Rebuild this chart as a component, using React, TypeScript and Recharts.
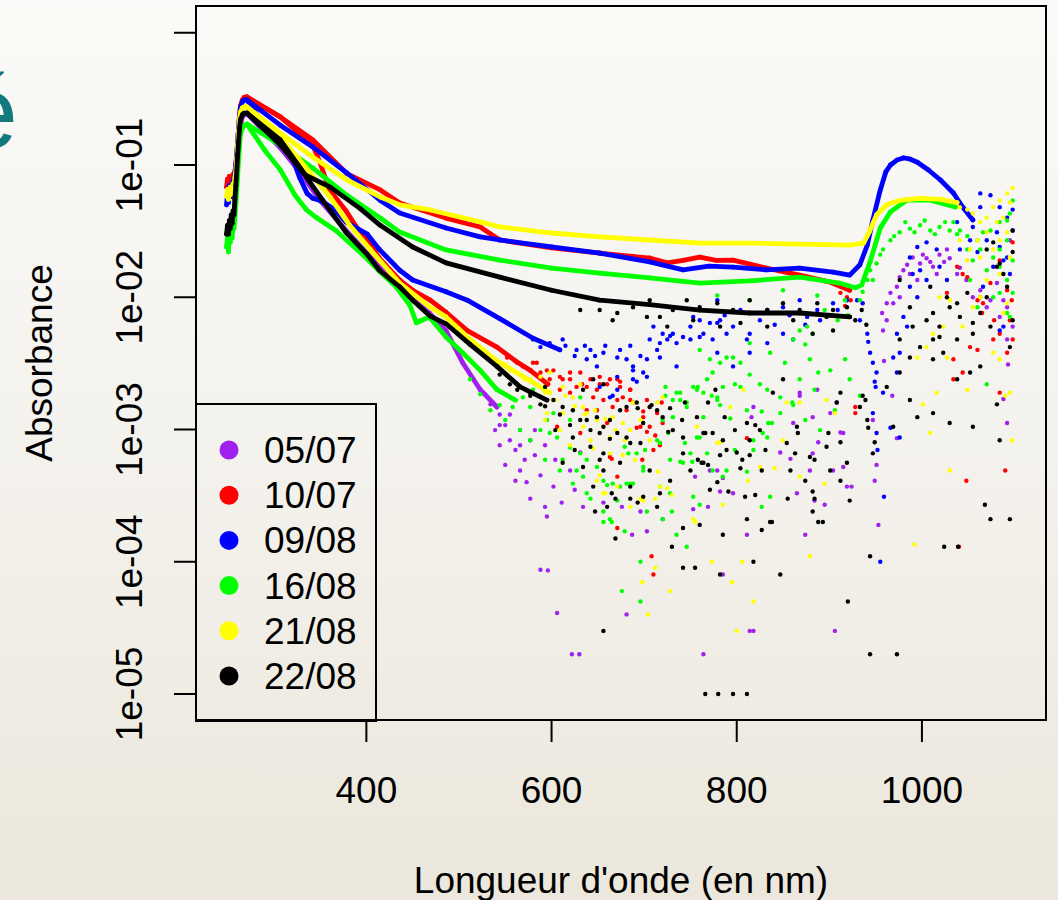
import React from 'react';
import { ScatterChart, Scatter, XAxis, YAxis, Legend, ReferenceArea } from 'recharts';

type P = [number, number];

const FONT = '"Liberation Sans", Arial, Helvetica, sans-serif';

const X_DOMAIN: [number, number] = [216, 1134];
const Y_DOMAIN: [number, number] = [6.36e-6, 1.593];
const X_TICKS = [400, 600, 800, 1000];
const Y_TICKS = [1, 0.1, 0.01, 0.001, 0.0001, 0.00001];
const Y_TICK_LABELS = ['', '1e-01', '1e-02', '1e-03', '1e-04', '1e-05'];
const X_TITLE = "Longueur d'onde (en nm)";
const Y_TITLE = 'Absorbance';

// ---- smooth spectra (wavelength nm, absorbance) ----
const PURPLE_LO: P[] = [[250,0.03],[253,0.034],[256,0.04],[258,0.05],[260,0.08],[262,0.14],[264,0.2],[266,0.23],[268,0.24],[271,0.245],[307,0.135],[328,0.089],[350,0.054],[378,0.032],[415,0.0167],[436,0.0117],[468,0.0076],[486,0.0056],[504,0.0032],[523,0.002],[541,0.00148]];

const RED_HI: P[] = [[249,0.068],[250,0.078],[251,0.072],[252,0.082],[253,0.075],[254,0.07],[255,0.08],[256,0.085],[257,0.078],[258,0.09],[259,0.1],[260,0.12],[261,0.15],[262,0.19],[263,0.24],[264,0.28],[266,0.31],[268,0.325],[271,0.327],[307,0.231],[342,0.155],[379,0.086],[415,0.0648],[436,0.0516],[486,0.0397],[523,0.034],[544,0.0271],[600,0.0236],[652,0.0216],[706,0.0198],[725,0.0182],[742,0.019],[760,0.0201],[778,0.019],[796,0.0191],[832,0.0166],[868,0.0147],[901,0.013],[922,0.0113]];
const RED_LO: P[] = [[271,0.327],[307,0.231],[342,0.142],[350,0.104],[360,0.065],[378,0.045],[390,0.0334],[401,0.027],[414,0.0198],[436,0.0135],[450,0.0113],[469,0.0095],[486,0.0077],[509,0.0056],[541,0.0042],[561,0.0033],[577,0.0028],[596,0.0022]];

const BLUE_HI: P[] = [[249,0.05],[250,0.06],[251,0.052],[252,0.07],[253,0.064],[254,0.058],[255,0.07],[256,0.075],[257,0.08],[258,0.085],[259,0.1],[260,0.12],[261,0.15],[262,0.19],[263,0.23],[264,0.27],[266,0.3],[268,0.31],[271,0.31],[307,0.2],[342,0.137],[379,0.087],[415,0.054],[436,0.0434],[486,0.0334],[523,0.0286],[544,0.0271],[600,0.024],[652,0.0216],[706,0.0185],[742,0.0161],[770,0.0172],[796,0.0169],[832,0.0161],[868,0.0166],[904,0.0155],[922,0.0147],[933,0.0176],[941,0.0248],[947,0.0384],[955,0.0648],[961,0.0886],[966,0.1],[973,0.109],[980,0.113],[987,0.111],[995,0.105],[1007,0.0917],[1020,0.077],[1034,0.0614],[1044,0.0481],[1055,0.0384]];
const BLUE_MID: P[] = [[271,0.31],[290,0.2],[318,0.125],[328,0.08],[336,0.061],[342,0.056],[350,0.054],[366,0.046],[378,0.037],[401,0.03],[414,0.023],[436,0.016],[450,0.0135],[486,0.011],[509,0.0095],[544,0.0069],[580,0.0049],[609,0.004]];

const GREEN_HI: P[] = [[249,0.024],[250,0.028],[251,0.022],[252,0.03],[253,0.026],[254,0.032],[255,0.028],[256,0.035],[257,0.033],[258,0.04],[259,0.05],[260,0.065],[261,0.085],[262,0.11],[263,0.14],[264,0.17],[266,0.19],[268,0.2],[271,0.204],[307,0.142],[342,0.095],[379,0.059],[415,0.0397],[436,0.0311],[486,0.0228],[544,0.0191],[600,0.0166],[652,0.0152],[706,0.014],[760,0.0128],[814,0.0133],[868,0.0142],[911,0.0128],[928,0.0118],[935,0.0124],[944,0.0185],[955,0.0334],[966,0.0442],[984,0.0543],[1009,0.0543],[1036,0.0481]];
const GREEN_LO: P[] = [[271,0.204],[290,0.13],[307,0.092],[323,0.059],[335,0.046],[346,0.04],[367,0.032],[396,0.021],[415,0.0155],[432,0.012],[447,0.0087],[454,0.0064],[460,0.0067],[468,0.0071],[486,0.005],[504,0.0038],[523,0.0028],[541,0.002],[561,0.00167]];

const YELLOW_HI: P[] = [[249,0.058],[250,0.065],[251,0.055],[252,0.062],[253,0.068],[254,0.06],[255,0.066],[256,0.072],[257,0.07],[258,0.08],[259,0.09],[260,0.11],[261,0.14],[262,0.18],[263,0.22],[264,0.25],[266,0.27],[268,0.275],[271,0.275],[307,0.175],[342,0.115],[379,0.077],[415,0.0573],[436,0.05],[469,0.0457],[523,0.0371],[544,0.034],[600,0.0306],[652,0.0286],[706,0.0271],[760,0.0257],[814,0.0257],[868,0.0252],[922,0.0248],[937,0.0257],[943,0.031],[951,0.042],[962,0.05],[976,0.054],[998,0.056],[1020,0.055],[1038,0.052]];
const YELLOW_LO: P[] = [[271,0.275],[307,0.163],[328,0.109],[361,0.057],[382,0.035],[404,0.023],[436,0.0128],[469,0.0084],[486,0.0071],[512,0.0048],[541,0.0033],[566,0.0026],[598,0.0019]];

const BLACK_HI: P[] = [[249,0.03],[250,0.035],[251,0.03],[252,0.038],[253,0.033],[254,0.042],[255,0.036],[256,0.045],[257,0.042],[258,0.055],[259,0.07],[260,0.09],[261,0.12],[262,0.15],[263,0.19],[264,0.22],[266,0.24],[268,0.247],[271,0.247],[307,0.155],[334,0.084],[361,0.068],[393,0.047],[415,0.035],[450,0.024],[486,0.0182],[544,0.0142],[600,0.0113],[652,0.0095],[706,0.0088],[760,0.008],[814,0.0076],[868,0.0076],[922,0.0071]];
const BLACK_LO: P[] = [[271,0.247],[307,0.142],[328,0.095],[353,0.054],[378,0.031],[401,0.021],[414,0.016],[436,0.012],[450,0.0095],[469,0.0072],[486,0.0063],[512,0.0044],[541,0.003],[566,0.0021],[595,0.00167]];

// ---- noisy points (wavelength nm, absorbance) ----
const PURPLE_SC: P[] = [[544,1.3e-3],[550,1.08e-3],[555,8.3e-4],[539,9.9e-4],[561,7.0e-4],[566,7.6e-4],[571,5.9e-4],[566,4.9e-4],[573,4.0e-4],[577,3.0e-4],[582,6.4e-4],[588,4.5e-4],[593,2.6e-4],[595,2.2e-4],[602,3.7e-4],[611,2.8e-4],[620,4.9e-4],[625,3.5e-4],[631,6.7e-4],[634,2.6e-4],[656,2.8e-4],[676,2.6e-4],[687,1.6e-4],[703,1.7e-4],[696,2.4e-4],[720,2.1e-4],[753,2.5e-4],[769,2.6e-4],[755,4.4e-4],[771,4.9e-4],[779,4.9e-4],[782,3.4e-4],[785,4.3e-4],[796,3.3e-4],[811,1.6e-4],[818,1.48e-3],[816,1.24e-3],[847,6.7e-4],[858,6.0e-4],[861,1.12e-3],[868,1.9e-3],[882,6.6e-4],[888,8.0e-4],[879,4.9e-4],[865,3.3e-4],[884,2.9e-4],[895,2.7e-4],[904,4.9e-4],[912,9.5e-4],[919,3.7e-4],[915,5.2e-4],[924,3.7e-4],[947,1.18e-3],[949,4.1e-4],[951,5.4e-4],[953,1.9e-4],[874,1.6e-4],[868,1.8e-3],[887,2.0e-3],[901,1.33e-3],[915,9.4e-4],[882,1.24e-3],[908,1.6e-3],
[528,1.85e-3],[534,1.55e-3],[544,1.08e-3],[555,1.3e-3],[566,9.9e-4],[577,8.3e-4],[582,9.9e-4],[593,7.6e-4],[604,5.9e-4],[544,7.6e-4],[550,5.4e-4],[561,4.1e-4],
[588,8.7e-5],[596,8.6e-5],[606,4.1e-5],[622,2.0e-5],[630,2.0e-5],[681,4.0e-5],[764,2.0e-5],[785,8.0e-5],[814,3.0e-5],[818,3.0e-5],[906,3.0e-5],
[957,7.6e-3],[962,9.0e-3],[966,0.0108],[973,0.012],[976,0.0142],[984,0.0176],[990,0.02],[998,0.018],[1005,0.0197],[1012,0.017],[1019,0.021],[1027,0.023],[1016,0.015],[995,0.0135],[987,0.015],[969,9.0e-3],[976,0.01],[962,6.7e-3],[958,5.6e-3],[1038,0.015],[1055,0.01],[1070,8.4e-3],[1084,7.1e-3],[1092,4.8e-3],[1098,6.0e-3],[1081,0.0128],[1088,9.5e-3],[1092,1.12e-3],[1095,0.027],[1092,8.4e-3],[959,3.3e-3],[968,1.8e-3],[973,8.6e-4],[1088,1.7e-3],[1093,3.1e-3],[980,0.016],[1001,0.021],[1009,0.0185],[1024,0.0185],[1030,0.0197],[1041,0.0167],[1048,0.0135],[1063,0.0113],[1074,0.0095]];

const RED_SC: P[] = [[584,3.2e-3],[595,2.8e-3],[609,2.5e-3],[620,2.4e-3],[631,2.7e-3],[642,2.4e-3],[649,2.0e-3],[660,2.2e-3],[671,2.4e-3],[677,1.75e-3],[685,1.67e-3],[699,1.24e-3],[706,1.48e-3],[696,1.05e-3],[681,1.4e-3],[666,1.48e-3],[649,1.4e-3],[638,1.4e-3],[620,1.9e-3],[606,1.05e-3],[660,1.12e-3],[706,1.05e-3],[717,7.9e-4],[710,7.0e-4],[663,6.2e-4],[671,4.4e-4],[631,9.4e-4],[609,2.0e-3],[598,2.4e-3],[633,2.2e-3],[652,2.2e-3],[674,2.3e-3],[685,2.0e-3],[688,1.6e-3],[699,1.37e-3],[692,1.03e-3],[703,9.6e-4],[712,9.0e-4],[665,6.0e-4],[698,5.9e-4],[717,7.6e-4],[719,1.6e-3],[671,1.8e-4],[708,1.1e-4],[710,8.0e-5],[928,1.48e-3],[928,1.33e-3],[811,8.6e-4],[912,0.0108],[919,0.01],[917,8.6e-3],[923,9.5e-3],
[552,3.5e-3],[563,3.2e-3],[569,3.0e-3],[580,3.2e-3],[588,2.7e-3],[602,2.8e-3],[612,2.4e-3],[620,2.7e-3],[638,2.1e-3],[652,2.5e-3],[663,2.4e-3],[674,2.1e-3],[685,2.0e-3],[703,1.67e-3],[714,1.33e-3],[720,1.12e-3],[671,1.67e-3],[656,1.67e-3],[645,1.75e-3],[627,2.1e-3],
[1038,0.017],[1044,0.015],[1049,0.0142],[1063,0.01],[1060,9.5e-3],[1066,9.0e-3],[1065,7.6e-3],[1084,0.019],[1098,0.026],[1084,5.3e-3],[1098,4.8e-3],[1092,3.8e-3],[1077,4.8e-3],[1052,4.2e-3],[1060,4.0e-3],[1034,3.4e-3],[1034,2.4e-3],[1084,1.9e-3],[1044,2.7e-3],[1027,0.0108],[1048,4.1e-4],[1090,4.9e-4],[1040,1.3e-4],[1074,0.0128],[1092,0.0113],[1097,9.5e-3],[1078,6.7e-3],[1095,6.7e-3]];

const BLUE_SC: P[] = [[580,4.8e-3],[588,4.2e-3],[598,4.5e-3],[612,4.8e-3],[627,4.0e-3],[638,3.4e-3],[649,3.0e-3],[642,4.0e-3],[656,3.8e-3],[671,3.5e-3],[674,4.0e-3],[681,3.4e-3],[688,2.8e-3],[699,2.7e-3],[703,3.4e-3],[714,4.0e-3],[717,4.5e-3],[720,5.3e-3],[735,4.5e-3],[742,5.0e-3],[750,6.0e-3],[764,5.3e-3],[771,6.4e-3],[782,6.7e-3],[774,4.8e-3],[671,2.5e-3],[663,1.75e-3],[688,2.4e-3],[671,2.0e-3],[666,1.8e-3],[652,2.1e-3],[692,2.3e-3],[710,6.0e-3],[725,4.8e-3],[731,5.3e-3],[760,5.0e-3],[779,6.4e-3],[789,5.3e-3],[796,6.0e-3],[811,4.8e-3],[814,5.3e-3],[833,4.5e-3],[850,5.3e-3],[861,4.8e-3],[876,7.1e-3],[887,8.0e-3],[904,9.0e-3],[919,9.5e-3],[868,9.5e-3],[850,8.4e-3],[833,8.0e-3],[779,9.5e-3],[814,3.8e-3],[796,3.0e-3],[779,3.8e-3],[753,7.1e-3],[717,3.5e-3],[735,3.0e-3],[703,2.5e-3],[688,3.0e-3],
[615,4.3e-3],[625,3.6e-3],[636,4.3e-3],[647,3.6e-3],[658,4.3e-3],[685,4.3e-3],[696,3.6e-3],[706,4.8e-3],[728,5.1e-3],[750,4.8e-3],[760,6.7e-3],[787,7.3e-3],[804,8.0e-3],[825,6.7e-3],[841,6.2e-3],[857,7.3e-3],[874,6.2e-3],[890,6.7e-3],[909,8.0e-3],
[930,9.5e-3],[936,9.0e-3],[933,6.7e-3],[941,5.3e-3],[942,4.6e-3],[944,3.8e-3],[947,3.2e-3],[951,2.7e-3],[950,2.1e-3],[958,1.9e-3],[947,1.33e-3],[951,9.4e-4],[966,1.03e-3],[976,8.7e-4],[952,7.0e-4],[959,3.1e-4],[955,1.0e-4],[949,2.3e-3],
[973,5.3e-3],[969,3.5e-3],[973,2.7e-3],[976,3.8e-3],[980,7.1e-3],[984,6.0e-3],[987,0.012],[995,0.01],[990,0.015],[998,0.016],[1005,0.0135],[987,0.02],[995,0.024],[1005,0.026],[1016,0.023],[1019,0.017],[1027,0.0135],
[1038,0.037],[1055,0.034],[1063,0.048],[1063,0.061],[1074,0.059],[1084,0.048],[1092,0.04],[1081,0.031],[1084,0.024],[1092,0.02],[1070,0.027],[1052,0.027],[1041,0.023],[1060,0.022],[1077,0.017],[1088,0.019],[1095,0.015],[1066,0.012],[1084,5.6e-3],[1088,6.0e-3],[1098,0.032],[1098,0.046]];

const GREEN_SC: P[] = [[558,1.48e-3],[569,1.75e-3],[577,1.48e-3],[580,2.0e-3],[595,1.18e-3],[602,1.33e-3],[606,8.7e-4],[620,1.18e-3],[620,7.3e-4],[627,4.9e-4],[638,5.9e-4],[649,5.2e-4],[656,4.1e-4],[612,5.9e-4],[598,9.4e-4],[623,3.9e-4],[638,3.3e-4],[656,2.4e-4],[663,2.1e-4],[671,2.9e-4],[685,3.9e-4],[699,5.2e-4],[692,6.6e-4],[714,8.3e-4],[720,1.18e-3],[731,1.67e-3],[739,1.9e-3],[746,1.6e-3],[757,2.0e-3],[768,2.4e-3],[774,2.7e-3],[782,3.2e-3],[789,3.5e-3],[785,2.1e-3],[779,1.67e-3],[764,1.24e-3],[757,8.7e-4],[750,6.6e-4],[728,5.9e-4],[742,5.6e-4],[768,6.6e-4],[774,4.9e-4],[785,4.4e-4],[753,3.1e-4],[728,3.3e-4],[703,2.4e-4],[720,2.1e-4],
[512,2.4e-3],[523,1.85e-3],[534,1.4e-3],[544,1.53e-3],[550,1.18e-3],[566,9.9e-4],[577,8.3e-4],[588,9.9e-4],[593,5.9e-4],[609,4.9e-4],
[760,4.0e-3],[771,3.4e-3],[804,3.2e-3],[814,2.6e-3],[836,3.8e-3],[852,3.2e-3],[868,2.4e-3],[884,2.0e-3],[901,2.8e-3],[917,3.4e-3],[922,2.4e-3],[933,1.8e-3],[906,1.4e-3],[890,9.9e-4],[874,1.18e-3],
[631,1.75e-3],[631,6.6e-4],[634,4.4e-4],[642,3.0e-4],[656,2.0e-4],[665,2.0e-4],[679,1.7e-4],[696,1.0e-4],[676,6.0e-5],[696,5.0e-5],[660,3.8e-4],[666,3.9e-4],[674,3.7e-4],[681,3.9e-4],[688,3.9e-4],[683,6.6e-4],[679,7.4e-4],[699,4.9e-4],[701,7.0e-4],[717,7.9e-4],[726,9.4e-4],[731,1.24e-3],[739,1.67e-3],[735,1.9e-3],[746,1.48e-3],[753,2.1e-3],[758,2.1e-3],[764,1.9e-3],[773,1.8e-3],[779,1.75e-3],[782,1.53e-3],[723,2.1e-3],[723,1.8e-3],[739,5.7e-4],[752,5.7e-4],[760,8.7e-4],[744,7.9e-4],[717,3.7e-4],[730,2.4e-4],[735,1.6e-4],[746,1.3e-4],[766,9.4e-4],[789,4.9e-4],[798,7.0e-4],[811,4.8e-4],[818,7.0e-4],[828,9.4e-4],[833,8.7e-4],[834,1.12e-3],[838,1.12e-3],[847,1.33e-3],[861,1.53e-3],[860,1.6e-3],[847,1.75e-3],[827,1.37e-3],[818,8.3e-4],[811,1.4e-3],[793,1.21e-3],[798,2.2e-3],[804,2.1e-3],[825,2.2e-3],[833,2.0e-3],[827,2.6e-4],[836,3.1e-4],[760,2.7e-4],
[779,0.0103],[814,0.0095],[850,0.0113],[887,0.0103],[917,0.0095],[796,0.0035],[814,0.0045],[861,0.0048],[876,0.006],[868,0.0056],[874,0.0044],[879,0.0034],[888,0.0027],[882,0.0053],[895,0.008],[909,0.0067],[920,0.0073],[933,0.0095],[936,0.011],
[941,0.0135],[944,0.016],[951,0.018],[958,0.023],[966,0.027],[976,0.031],[987,0.033],[998,0.035],[1009,0.032],[1019,0.034],[1030,0.032],[1038,0.03],[970,0.029],[982,0.037],[992,0.031],[1003,0.038],[1014,0.03],[1025,0.037],[947,0.0135],[955,0.021],
[1034,0.037],[1041,0.032],[1049,0.029],[1060,0.027],[1066,0.031],[1074,0.032],[1084,0.037],[1092,0.038],[1098,0.054],[1095,0.043],[1049,0.023],[1055,0.019],[1063,0.023],[1084,0.023],[1092,0.027],[1077,0.02],[1070,0.016],[1052,0.0135],[1084,0.017],[1092,0.0135],[1098,0.0108],[1084,0.0108],[1077,0.01],[1060,0.0084],[1092,0.0076],[1095,0.0071],[1070,0.0022],[1098,0.019]];

const YELLOW_SC: P[] = [[555,2.8e-3],[577,2.4e-3],[588,2.5e-3],[598,2.7e-3],[612,2.1e-3],[623,1.75e-3],[634,1.48e-3],[649,1.18e-3],[656,1.05e-3],[666,1.24e-3],[677,1.12e-3],[685,9.9e-4],[642,8.3e-4],[663,8.7e-4],[634,1.05e-3],[612,1.33e-3],[595,1.33e-3],[649,4.1e-4],[656,3.3e-4],[685,2.6e-4],[699,2.9e-4],[717,3.7e-4],[725,3.6e-4],[688,1.6e-3],[714,1.6e-3],[720,1.75e-3],[757,1.05e-3],[779,7.9e-4],[753,2.1e-4],[663,6.6e-4],[631,2.2e-3],[638,1.33e-3],[645,7.2e-4],[652,4.5e-4],[658,3.3e-4],[671,3.7e-4],[677,6.4e-4],[690,5.9e-4],[696,3.0e-4],[712,3.0e-4],[715,4.8e-4],[730,3.2e-4],[712,9.0e-5],[698,7.0e-5],[704,4.0e-5],[728,6.0e-5],[755,2.0e-4],[773,1.0e-4],[806,1.0e-4],[795,7.0e-5],[818,5.0e-5],[800,3.0e-5],[782,8.0e-4],[793,1.48e-3],[807,2.0e-3],[825,5.2e-4],[841,5.1e-4],[850,8.3e-4],[854,1.6e-3],[868,4.4e-4],[879,1.1e-4],[868,1.6e-3],[897,1.67e-3],[906,1.33e-3],[895,3.9e-4],[812,4.1e-4],[785,2.7e-4],
[550,3.1e-3],[561,2.7e-3],[571,2.4e-3],[582,2.2e-3],[593,1.9e-3],[604,1.67e-3],[615,1.8e-3],[625,1.5e-3],[636,1.3e-3],[647,1.4e-3],[658,1.2e-3],[669,9.9e-4],[679,8.3e-4],[696,1.18e-3],[706,8.3e-4],[609,9.9e-4],[620,7.6e-4],[593,1.18e-3],
[1041,0.048],[1049,0.046],[1055,0.043],[1063,0.037],[1070,0.04],[1077,0.048],[1084,0.054],[1092,0.061],[1098,0.067],[1095,0.052],[1088,0.04],[1081,0.037],[1070,0.031],[1060,0.027],[1052,0.023],[1041,0.027],[1084,0.027],[1092,0.031],[1095,0.02],[1084,0.015],[1077,0.023],[1063,0.02],[1049,0.019],[1070,0.0135],[1092,0.009],[1088,0.0076],[1077,0.0038],[1084,0.0034],[1063,0.01],[1030,0.0095],[1019,0.01],[1012,0.0053],[1005,0.0042],[1016,1.9e-3],[1001,1.55e-3],[1009,9.4e-4],[1027,3.5e-3],[1044,6.0e-3],[1055,8.4e-3],[1095,1.9e-3],[1049,2.0e-3],[995,3.5e-3],[1023,6.0e-3],[1097,8.3e-4],[992,1.35e-4],[1090,1.8e-3],[1030,4.9e-4]];

const BLACK_SC: P[] = [[563,2.0e-3],[577,1.9e-3],[588,1.55e-3],[602,1.67e-3],[612,1.48e-3],[623,1.4e-3],[634,2.0e-3],[645,2.4e-3],[656,2.2e-3],[649,1.24e-3],[656,1.05e-3],[671,9.4e-4],[681,1.48e-3],[692,1.6e-3],[706,1.48e-3],[714,1.4e-3],[720,1.24e-3],[696,7.9e-4],[681,8.7e-4],[656,6.6e-4],[642,7.4e-4],[623,8.7e-4],[612,5.6e-4],[634,5.2e-4],[656,4.9e-4],[674,5.6e-4],[685,3.7e-4],[699,3.1e-4],[714,2.6e-4],[660,2.6e-4],[645,3.7e-4],[731,9.9e-4],[742,8.7e-4],[764,9.4e-4],[785,8.3e-4],[764,5.6e-4],[742,6.6e-4],[789,7.0e-4],
[544,2.6e-3],[555,2.2e-3],[577,1.8e-3],[593,1.5e-3],[609,1.3e-3],[620,1.08e-3],[631,1.18e-3],[642,9.9e-4],[663,1.18e-3],[674,1.4e-3],[593,2.1e-3],[604,9.9e-4],[625,7.0e-4],[652,5.9e-4],[706,4.9e-4],[728,4.1e-4],[750,4.9e-4],[771,3.5e-4],[782,6.4e-4],[798,9.9e-4],[814,8.3e-4],[831,7.0e-4],[858,4.9e-4],[874,4.1e-4],[901,4.9e-4],[912,4.1e-4],[922,2.9e-4],
[638,1.18e-3],[652,9.4e-4],[663,8.5e-4],[685,7.9e-4],[699,1.12e-3],[708,1.53e-3],[693,1.45e-3],[726,9.6e-4],[728,1.45e-3],[741,1.18e-3],[744,1.6e-3],[757,1.24e-3],[777,2.0e-3],[769,1.6e-3],[766,9.4e-4],[774,9.4e-4],[787,1.24e-3],[800,6.7e-4],[806,5.9e-4],[804,5.1e-4],[814,6.4e-4],[811,1.12e-3],[820,1.08e-3],[825,9.9e-4],[827,4.9e-4],[758,5.9e-4],[762,5.6e-4],[769,5.4e-4],[779,4.0e-4],[791,3.4e-4],[809,3.1e-4],[820,3.2e-4],[811,2.1e-4],[827,1.74e-4],[785,1.6e-4],[760,1.9e-4],[742,1.8e-4],[730,1.3e-4],[742,9.0e-5],[755,9.0e-5],[782,8.0e-5],[818,1.0e-4],[847,8.0e-5],[838,2.0e-4],[855,3.0e-4],[854,7.9e-4],[839,1.9e-3],[850,2.4e-3],[865,1.05e-3],[866,9.4e-4],[863,6.6e-4],[879,6.2e-4],[884,5.9e-4],[897,7.4e-4],[899,9.4e-4],[912,8.0e-4],[919,5.6e-4],[882,3.4e-4],[884,3.0e-4],[882,2.4e-4],[888,2.0e-4],[893,2.0e-4],[908,1.6e-3],[912,1.9e-3],[936,1.8e-3],[939,1.67e-3],[941,1.18e-3],[942,1.03e-3],[949,8.0e-4],[947,6.6e-4],[944,1.1e-4],[920,5.0e-5],[944,2.0e-5],[973,2.0e-5],[685,3.0e-4],[693,2.8e-4],[717,3.3e-4],[665,3.3e-4],[669,1.5e-4],[656,3.0e-5],[647,2.4e-4],[669,3.0e-4],[836,2.0e-4],
[766,1e-5],[780,1e-5],[796,1e-5],[811,1e-5],[1024,1.3e-4],[1039,1.3e-4],[1068,2.7e-4],[1074,2.1e-4],[1095,2.1e-4],
[652,8.0e-3],[671,7.6e-3],[688,8.4e-3],[706,9.5e-3],[717,7.1e-3],[731,8.0e-3],[746,9.5e-3],[760,8.4e-3],[779,9.0e-3],[796,8.0e-3],[814,9.5e-3],[833,8.0e-3],[850,9.0e-3],[868,8.0e-3],[887,9.0e-3],[904,8.0e-3],[919,8.4e-3],[753,6.7e-3],[804,6.4e-3],[861,6.7e-3],[897,7.1e-3],[904,5.6e-3],[882,5.3e-3],[833,6.0e-3],[782,6.0e-3],[725,6.0e-3],[703,7.1e-3],[666,6.7e-3],[631,8.0e-3],[928,6.7e-3],[935,8.0e-3],[940,6.2e-3],
[976,0.0135],[987,8.4e-3],[990,6.0e-3],[1009,0.012],[1012,7.6e-3],[1019,6.0e-3],[1027,0.01],[1030,8.4e-3],[1038,9.0e-3],[1049,0.0108],[1070,0.023],[1077,0.026],[1084,0.018],[1088,0.015],[1092,0.012],[1098,0.032],[1098,0.022],[1081,0.017],[1070,0.01],[1063,7.6e-3],[1055,6.4e-3],[1041,7.1e-3],[1019,5.0e-3],[1005,6.7e-3],[1012,4.8e-3],[998,4.2e-3],[976,4.8e-3],[987,3.5e-3],[1012,3.4e-3],[1023,3.8e-3],[1038,4.8e-3],[1055,5.3e-3],[1074,6.0e-3],[1095,4.2e-3],[1098,6.7e-3],[976,2.7e-3],[962,2.1e-3],[933,1.48e-3],[987,1.67e-3],[1038,2.4e-3],[1052,2.7e-3],[1063,3.0e-3],[1081,1.55e-3],[1012,1.33e-3],[995,1.24e-3],[1030,1.12e-3],[1055,1.05e-3],[1084,8.3e-4],[969,1.05e-3]];

const SERIES = [
  { name: '05/07', color: '#a020f0', traces: [PURPLE_LO], points: PURPLE_SC },
  { name: '10/07', color: '#ff0000', traces: [RED_HI, RED_LO], points: RED_SC },
  { name: '09/08', color: '#0000ff', traces: [BLUE_HI, BLUE_MID], points: BLUE_SC },
  { name: '16/08', color: '#00ff00', traces: [GREEN_HI, GREEN_LO], points: GREEN_SC },
  { name: '21/08', color: '#ffff00', traces: [YELLOW_HI, YELLOW_LO], points: YELLOW_SC },
  { name: '22/08', color: '#000000', traces: [BLACK_HI, BLACK_LO], points: BLACK_SC },
];

const toObj = (arr: P[]) => arr.map(([x, y]) => ({ x, y }));

function XTick(props: any) {
  const { x, payload } = props;
  return (
    <text x={x} y={803} textAnchor="middle" fontSize={37} fontFamily={FONT} fill="#000">
      {payload.value}
    </text>
  );
}

function YTick(props: any) {
  const { y, payload } = props;
  const i = Y_TICKS.findIndex((t) => Math.abs(Math.log10(t) - Math.log10(payload.value)) < 1e-6);
  const label = i >= 0 ? Y_TICK_LABELS[i] : '';
  if (!label) return <g />;
  return (
    <text x={142} y={y} transform={`rotate(-90, 142, ${y})`} textAnchor="middle" fontSize={37} fontFamily={FONT} fill="#000">
      {label}
    </text>
  );
}

function Title(props: any) {
  const { tx, ty, rot, txt } = props;
  return (
    <text x={tx} y={ty} transform={rot ? `rotate(-90, ${tx}, ${ty})` : undefined} textAnchor="middle" fontSize={37} fontFamily={FONT} fill="#000">
      {txt}
    </text>
  );
}

function LegendBox() {
  return (
    <svg width={182} height={320} style={{ display: 'block' }}>
      <rect x={1} y={1} width={180} height={317} fill="none" stroke="#000" strokeWidth={2} />
      {SERIES.map((s, i) => (
        <g key={s.name}>
          <circle cx={34} cy={47 + i * 45.2} r={9.5} fill={s.color} />
          <text x={69} y={47 + i * 45.2 + 13} fontSize={37} fontFamily={FONT} fill="#000">
            {s.name}
          </text>
        </g>
      ))}
    </svg>
  );
}

const makeDot = (color: string, r: number) => (props: any) =>
  props.cx == null ? <g /> : <circle cx={props.cx} cy={props.cy} r={r} fill={color} />;

export default function App() {
  return (
    <div
      style={{
        position: 'absolute',
        left: 0,
        top: 0,
        width: 1058,
        height: 900,
        overflow: 'hidden',
        background: 'linear-gradient(to bottom, #fafaf8 0%, #f4f2ed 50%, #ebe7dc 100%)',
      }}
    >
      <svg style={{ position: 'absolute', left: 0, top: 0 }} width={60} height={200}>
        <text x={-40} y={148} fontSize={104} fontFamily={FONT} fill="#12797d">é</text>
      </svg>
      <div style={{ position: 'absolute', left: 0, top: 0 }}>
        <ScatterChart width={1058} height={900} margin={{ top: 6, right: 12, bottom: 80, left: 96 }}>
          <XAxis
            type="number"
            dataKey="x"
            domain={X_DOMAIN}
            ticks={X_TICKS}
            allowDataOverflow
            height={100}
            tickSize={22}
            tickLine={{ stroke: '#000', strokeWidth: 2 }}
            axisLine={false}
            tick={XTick}
            interval={0}
            label={<Title tx={621} ty={893} txt={X_TITLE} />}
          />
          <YAxis
            type="number"
            dataKey="y"
            scale="log"
            domain={Y_DOMAIN}
            ticks={Y_TICKS}
            allowDataOverflow
            width={100}
            tickSize={22}
            tickLine={{ stroke: '#000', strokeWidth: 2 }}
            axisLine={false}
            tick={YTick}
            interval={0}
            label={<Title tx={52} ty={363} rot txt={Y_TITLE} />}
          />
          {SERIES.map((s) => (
            <React.Fragment key={s.name}>
              {s.traces.map((t, j) => (
                <Scatter
                  key={`${s.name}-t${j}`}
                  name={s.name}
                  data={toObj(t)}
                  fill={s.color}
                  line={{ stroke: s.color, strokeWidth: 4.8, strokeLinejoin: 'round', strokeLinecap: 'round' }}
                  lineType="joint"
                  shape={makeDot(s.color, 2.4)}
                  isAnimationActive={false}
                  legendType="none"
                />
              ))}
              <Scatter
                key={`${s.name}-p`}
                name={s.name}
                data={toObj(s.points)}
                fill={s.color}
                shape={makeDot(s.color, 2.2)}
                isAnimationActive={false}
                legendType="none"
              />
            </React.Fragment>
          ))}
          <ReferenceArea
            x1={X_DOMAIN[0]}
            x2={X_DOMAIN[1]}
            y1={Y_DOMAIN[0]}
            y2={Y_DOMAIN[1]}
            fill="none"
            fillOpacity={0}
            stroke="#000"
            strokeWidth={2}
            ifOverflow="visible"
          />
          <Legend
            layout="vertical"
            align="center"
            verticalAlign="middle"
            content={LegendBox}
            wrapperStyle={{ position: 'absolute', left: 195, top: 403, width: 182, height: 320, margin: 0, padding: 0, lineHeight: 0 }}
          />
        </ScatterChart>
      </div>
    </div>
  );
}
